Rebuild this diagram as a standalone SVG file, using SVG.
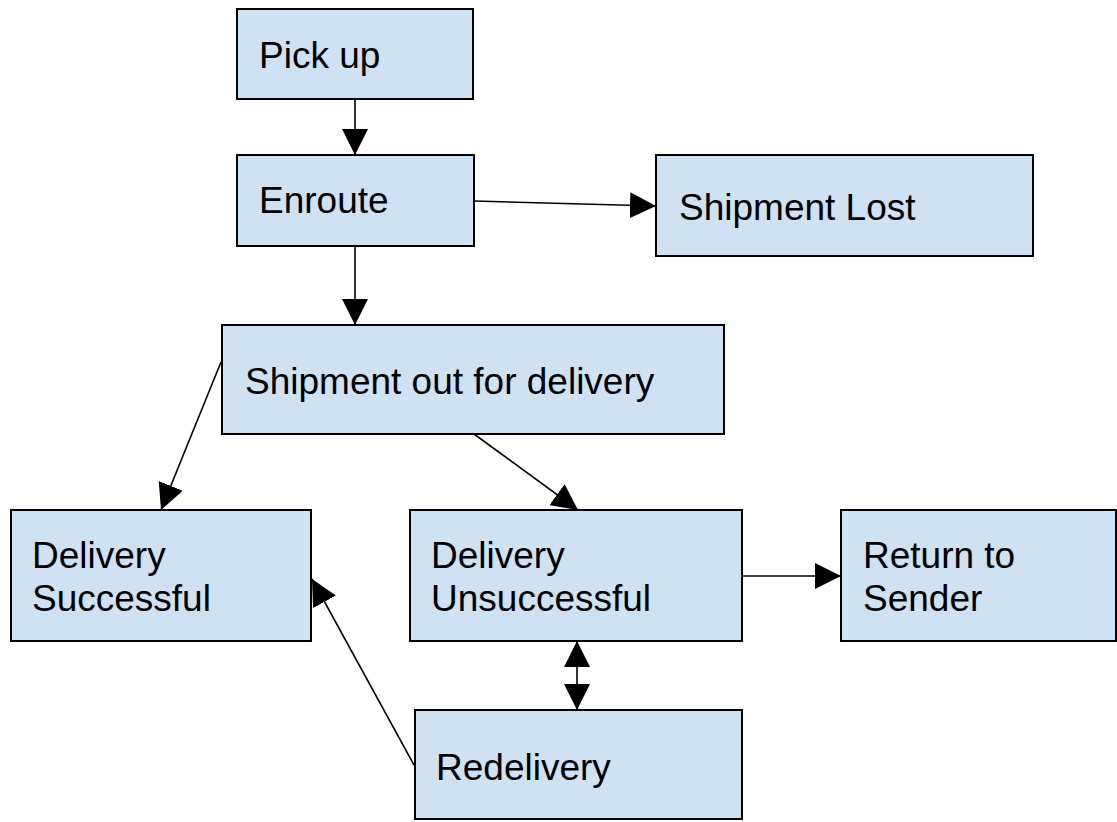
<svg xmlns="http://www.w3.org/2000/svg" width="1117" height="822" viewBox="0 0 1117 822">
<style>
.box{fill:#cfe2f3;stroke:#000;stroke-width:2}
.lbl{font-family:"Liberation Sans",Arial,sans-serif;font-size:37px;fill:#000}
.con{fill:none;stroke:#000;stroke-width:1.6}
</style>
<defs>
<marker id="ah" viewBox="0 0 26 26" markerWidth="26" markerHeight="26" refX="26" refY="13" orient="auto-start-reverse" markerUnits="userSpaceOnUse">
<path d="M0,0 L26,13 L0,26 Z" fill="#000"/>
</marker>
</defs>
<rect width="1117" height="822" fill="#fff"/>
<g id="pickup"><rect class="box" x="237" y="9" width="236" height="90"/><text class="lbl" x="259" y="68">Pick up</text></g>
<g id="enroute"><rect class="box" x="237" y="155" width="237" height="91"/><text class="lbl" x="259" y="213">Enroute</text></g>
<g id="lost"><rect class="box" x="656" y="155" width="377" height="101"/><text class="lbl" x="679" y="220">Shipment Lost</text></g>
<g id="outfordelivery"><rect class="box" x="222" y="325" width="502" height="109"/><text class="lbl" x="245" y="394">Shipment out for delivery</text></g>
<g id="successful"><rect class="box" x="11" y="510" width="300" height="131"/><text class="lbl" x="32" y="568">Delivery</text><text class="lbl" x="32" y="611">Successful</text></g>
<g id="unsuccessful"><rect class="box" x="410" y="510" width="332" height="131"/><text class="lbl" x="431" y="568">Delivery</text><text class="lbl" x="431" y="611">Unsuccessful</text></g>
<g id="return"><rect class="box" x="841" y="510" width="275" height="131"/><text class="lbl" x="863" y="568">Return to</text><text class="lbl" x="863" y="611">Sender</text></g>
<g id="redelivery"><rect class="box" x="415" y="710" width="327" height="109"/><text class="lbl" x="436" y="780">Redelivery</text></g>
<g id="connectors">
<path class="con" d="M355,99 L355,155" marker-end="url(#ah)"/>
<path class="con" d="M355,246 L355,325" marker-end="url(#ah)"/>
<path class="con" d="M474,201 L656,206" marker-end="url(#ah)"/>
<path class="con" d="M221,362 L161,510" marker-end="url(#ah)"/>
<path class="con" d="M474,434 L578,510" marker-end="url(#ah)"/>
<path class="con" d="M742,576 L841,576" marker-end="url(#ah)"/>
<path class="con" d="M577,641 L577,710" marker-start="url(#ah)" marker-end="url(#ah)"/>
<path class="con" d="M414,765 L312,579" marker-end="url(#ah)"/>
</g>
</svg>
